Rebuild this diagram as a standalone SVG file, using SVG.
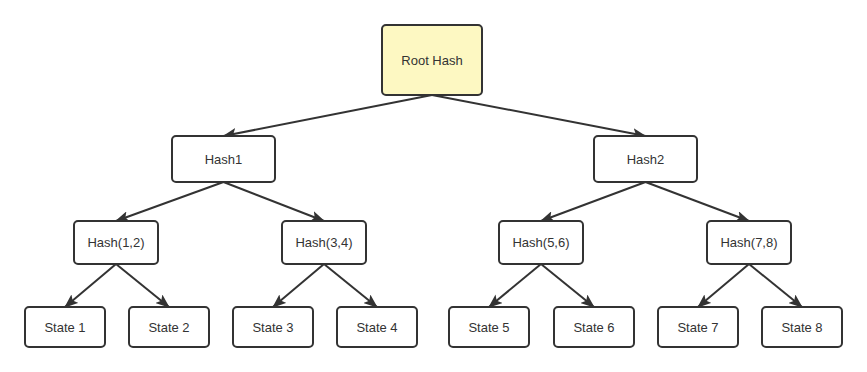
<svg xmlns="http://www.w3.org/2000/svg" width="867" height="372" viewBox="0 0 867 372">
<defs>
<marker id="arr" markerWidth="14" markerHeight="11" refX="13" refY="5.5" orient="auto" markerUnits="userSpaceOnUse">
<path d="M0,0 L14,5.5 L0,11 L3,5.5 Z" fill="#333"/>
</marker>
<style>
.n rect{fill:#fff;stroke:#333;stroke-width:2}
.n.root rect{fill:#fdf8c2}
.n text{font-family:"Liberation Sans",Arial,sans-serif;font-size:13px;fill:#333;text-anchor:middle;dominant-baseline:central}
.c line{stroke:#333;stroke-width:2;marker-end:url(#arr)}
</style>
</defs>
<rect width="867" height="372" fill="#fff"/>
<g class="c" id="connectors">
<line x1="432" y1="95" x2="223.5" y2="136"/>
<line x1="432" y1="95" x2="645.5" y2="136"/>
<line x1="223.5" y1="182" x2="116" y2="221"/>
<line x1="223.5" y1="182" x2="324" y2="221"/>
<line x1="645.5" y1="182" x2="541" y2="221"/>
<line x1="645.5" y1="182" x2="749" y2="221"/>
<line x1="116" y1="264" x2="65" y2="307"/>
<line x1="116" y1="264" x2="169" y2="307"/>
<line x1="324" y1="264" x2="273" y2="307"/>
<line x1="324" y1="264" x2="377" y2="307"/>
<line x1="541" y1="264" x2="489" y2="307"/>
<line x1="541" y1="264" x2="594" y2="307"/>
<line x1="749" y1="264" x2="698" y2="307"/>
<line x1="749" y1="264" x2="802" y2="307"/>
</g>
<g class="n root" id="root"><rect x="382" y="25" width="100" height="70" rx="4"/><text x="432" y="60">Root Hash</text></g>
<g class="n" id="hash1"><rect x="172" y="136" width="103" height="46" rx="4"/><text x="223.5" y="159">Hash1</text></g>
<g class="n" id="hash2"><rect x="594" y="136" width="103" height="46" rx="4"/><text x="645.5" y="159">Hash2</text></g>
<g class="n" id="hash12"><rect x="74" y="221" width="84" height="43" rx="4"/><text x="116" y="242.5">Hash(1,2)</text></g>
<g class="n" id="hash34"><rect x="282" y="221" width="84" height="43" rx="4"/><text x="324" y="242.5">Hash(3,4)</text></g>
<g class="n" id="hash56"><rect x="499" y="221" width="84" height="43" rx="4"/><text x="541" y="242.5">Hash(5,6)</text></g>
<g class="n" id="hash78"><rect x="707" y="221" width="84" height="43" rx="4"/><text x="749" y="242.5">Hash(7,8)</text></g>
<g class="n" id="state1"><rect x="25" y="307" width="80" height="40" rx="4"/><text x="65" y="327">State 1</text></g>
<g class="n" id="state2"><rect x="129" y="307" width="80" height="40" rx="4"/><text x="169" y="327">State 2</text></g>
<g class="n" id="state3"><rect x="233" y="307" width="80" height="40" rx="4"/><text x="273" y="327">State 3</text></g>
<g class="n" id="state4"><rect x="337" y="307" width="80" height="40" rx="4"/><text x="377" y="327">State 4</text></g>
<g class="n" id="state5"><rect x="449" y="307" width="80" height="40" rx="4"/><text x="489" y="327">State 5</text></g>
<g class="n" id="state6"><rect x="554" y="307" width="80" height="40" rx="4"/><text x="594" y="327">State 6</text></g>
<g class="n" id="state7"><rect x="658" y="307" width="80" height="40" rx="4"/><text x="698" y="327">State 7</text></g>
<g class="n" id="state8"><rect x="762" y="307" width="80" height="40" rx="4"/><text x="802" y="327">State 8</text></g>
</svg>
